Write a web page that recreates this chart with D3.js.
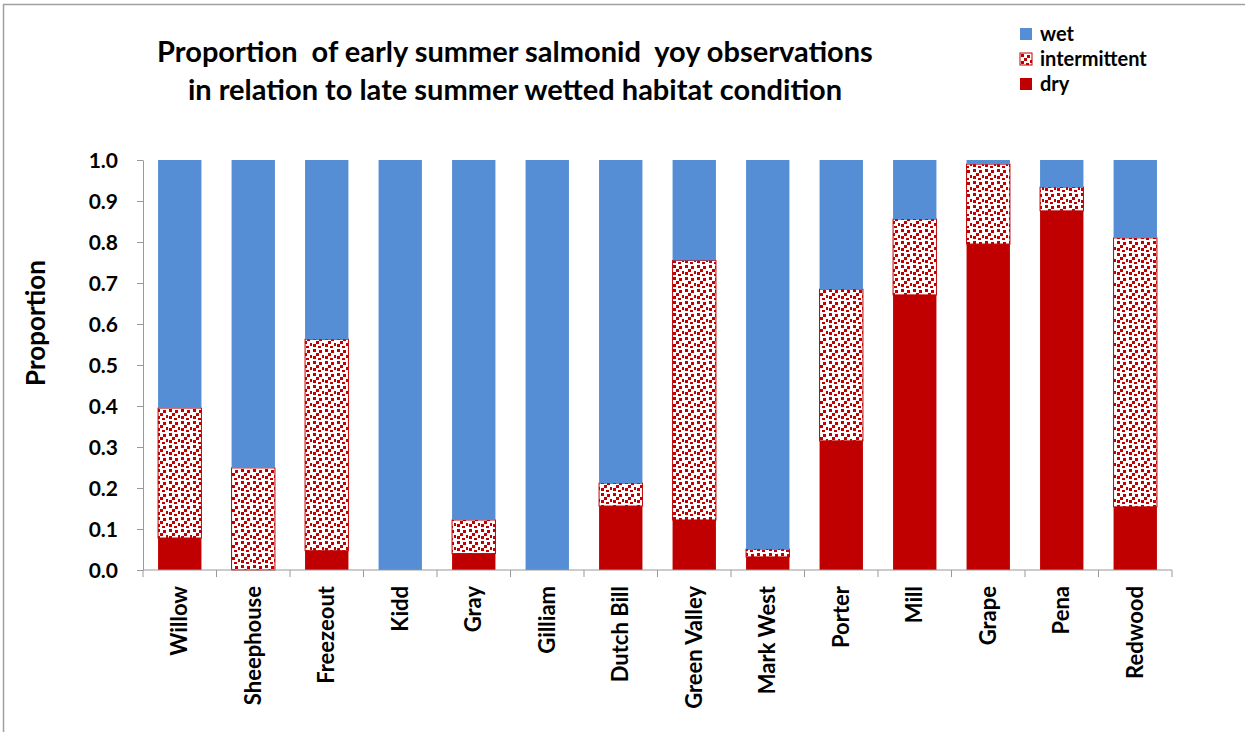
<!DOCTYPE html>
<html>
<head>
<meta charset="utf-8">
<script src="https://cdn.jsdelivr.net/npm/d3@7"></script>
<style>
  body { margin: 0; background: #fff; }
  text { font-family: Lato, "Open Sans", sans-serif; font-weight: bold; fill: #000; }
</style>
</head>
<body>
<svg width="1245" height="732"></svg>
<script>
const sites = ["Willow", "Sheephouse", "Freezeout", "Kidd", "Gray", "Gilliam", "Dutch Bill",
  "Green Valley", "Mark West", "Porter", "Mill", "Grape", "Pena", "Redwood"];
const dry = [0.078, 0, 0.047, 0, 0.04, 0, 0.156, 0.122, 0.032, 0.315, 0.671, 0.795, 0.876, 0.154];
const intermittent = [0.317, 0.249, 0.516, 0, 0.082, 0, 0.056, 0.633, 0.019, 0.37, 0.185, 0.195, 0.058, 0.656];
const wet = sites.map((s, i) => 1 - dry[i] - intermittent[i]);
const yTicks = [0, 0.1, 0.2, 0.3, 0.4, 0.5, 0.6, 0.7, 0.8, 0.9, 1.0];
const seriesNames = ["dry", "intermittent", "wet"];

const svg = d3.select("svg"),
  width = +svg.attr("width"),
  height = +svg.attr("height");

const margin = { left: 143, right: 73, top: 160, bottom: 162 };

// outer frame (top and left only visible)
svg.append("line").attr("x1", 3).attr("x2", width).attr("y1", 4.5).attr("y2", 4.5)
  .style("stroke", "#a0a0a0").style("stroke-width", 1.5)
svg.append("line").attr("x1", 3.5).attr("x2", 3.5).attr("y1", 4).attr("y2", height)
  .style("stroke", "#a0a0a0").style("stroke-width", 1.5)

// confetti pattern for intermittent
const defs = svg.append("defs");
const pat = defs.append("pattern").attr("id", "confetti")
  .attr("patternUnits", "userSpaceOnUse").attr("width", 12).attr("height", 12);
pat.append("rect").attr("width", 12).attr("height", 12).style("fill", "#fff");
[[1, 1], [7, 2], [4, 5], [10, 7], [1, 8], [6, 10]].forEach(p => {
  pat.append("rect").attr("x", p[0]).attr("y", p[1]).attr("width", 3).attr("height", 3)
    .style("fill", "#C00000");
});

const x = d3.scaleBand().domain(sites)
  .range([margin.left, width - margin.right]).paddingInner(0.41).paddingOuter(0.205);
const y = d3.scaleLinear().domain([0, 1]).range([height - margin.bottom, margin.top]);

const colors = { dry: "#C00000", intermittent: "url(#confetti)", wet: "#558ED5" };

const table = sites.map((s, i) => ({ site: s, dry: dry[i], intermittent: intermittent[i], wet: wet[i] }));
const stacked = d3.stack().keys(seriesNames)(table);

svg.append("g").selectAll("g")
  .data(stacked)
  .join("g")
  .style("fill", d => colors[d.key])
  .style("stroke", d => d.key === "intermittent" ? "#C00000" : "none")
  .style("stroke-width", 1)
  .selectAll("rect")
  .data(d => d)
  .join("rect")
  .attr("x", d => x(d.data.site))
  .attr("width", x.bandwidth())
  .attr("y", d => y(d[1]))
  .attr("height", d => Math.max(0, y(d[0]) - y(d[1])))
  .style("display", d => d[1] - d[0] > 0 ? null : "none");

// y axis
const yAxis = svg.append("g").attr("transform", `translate(${margin.left},0)`)
  .call(d3.axisLeft(y).tickValues(yTicks).tickFormat(d3.format(".1f")).tickSize(6).tickSizeOuter(0));
yAxis.select(".domain").style("stroke", "#999");
yAxis.selectAll(".tick line").style("stroke", "#999");
yAxis.selectAll(".tick text").style("font-size", "21px").attr("x", -25).attr("dy", "0.35em");

// x axis with boundary ticks
const bounds = d3.range(sites.length + 1).map(i => margin.left + i * x.step());
const xg = svg.append("g").attr("transform", `translate(0,${height - margin.bottom})`);
xg.append("line").attr("x1", margin.left).attr("x2", width - margin.right)
  .style("stroke", "#999");
xg.selectAll(".bt").data(bounds).join("line").attr("class", "bt")
  .attr("x1", d => d).attr("x2", d => d).attr("y1", 0).attr("y2", 7).style("stroke", "#999");
xg.selectAll(".lab").data(sites).join("text").attr("class", "lab")
  .attr("transform", d => `translate(${x(d) + x.bandwidth() / 2},16) rotate(-90)`)
  .attr("dy", "0.35em")
  .style("text-anchor", "end").style("font-size", "22px")
  .text(d => d);

// y label
svg.append("text").attr("transform", "translate(36,323) rotate(-90)")
  .attr("dy", "0.35em").style("text-anchor", "middle").style("font-size", "26px").text("Proportion");

// title
svg.append("text").attr("x", 515).attr("y", 62).style("text-anchor", "middle").style("font-size", "29px")
  .style("white-space", "pre")
  .text("Proportion  of early summer salmonid  yoy observations");
svg.append("text").attr("x", 515).attr("y", 100).style("text-anchor", "middle").style("font-size", "29px")
  .style("white-space", "pre")
  .text("in relation to late summer wetted habitat condition");

// legend
const legOrder = ["wet", "intermittent", "dry"];
const leg = svg.append("g").selectAll("g").data(legOrder).join("g")
  .attr("transform", (d, i) => `translate(1020,${28 + i * 25})`);
leg.append("rect").attr("width", 12).attr("height", 12)
  .style("fill", d => colors[d])
  .style("stroke", d => d === "intermittent" ? "#C00000" : "none");
leg.append("text").attr("x", 20).attr("y", 6).attr("dy", "0.35em").style("font-size", "20px").text(d => d);
</script>
</body>
</html>
